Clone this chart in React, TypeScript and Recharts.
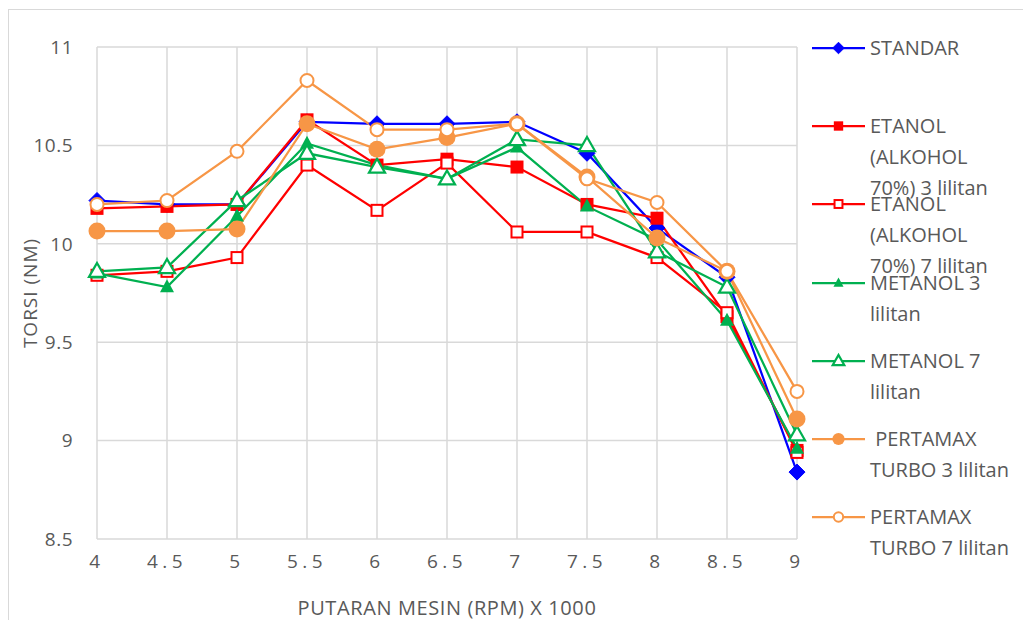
import React from 'react';
import { LineChart, Line, XAxis, YAxis, CartesianGrid, Legend } from 'recharts';

// Engine speed (x 1000 RPM)
const rpm = [4, 4.5, 5, 5.5, 6, 6.5, 7, 7.5, 8, 8.5, 9];

// Torque (Nm) per fuel / coil configuration
const standar = [10.22, 10.2, 10.2, 10.62, 10.61, 10.61, 10.62, 10.46, 10.08, 9.83, 8.84];
const etanol3 = [10.18, 10.19, 10.2, 10.63, 10.4, 10.43, 10.39, 10.2, 10.13, 9.63, 8.95];
const etanol7 = [9.84, 9.86, 9.93, 10.4, 10.17, 10.41, 10.06, 10.06, 9.93, 9.65, 8.94];
const metanol3 = [9.85, 9.78, 10.14, 10.51, 10.4, 10.33, 10.49, 10.19, 10.02, 9.61, 8.96];
const metanol7 = [9.86, 9.88, 10.22, 10.46, 10.39, 10.33, 10.53, 10.5, 9.96, 9.78, 9.03];
const pertamax3 = [10.065, 10.065, 10.075, 10.61, 10.48, 10.54, 10.61, 10.34, 10.03, 9.86, 9.11];
const pertamax7 = [10.2, 10.22, 10.47, 10.83, 10.58, 10.58, 10.61, 10.33, 10.21, 9.86, 9.25];

const xTicks = [4, 4.5, 5, 5.5, 6, 6.5, 7, 7.5, 8, 8.5, 9];
const yTicks = [8.5, 9, 9.5, 10, 10.5, 11];

const seriesKeys = ['standar', 'etanol3', 'etanol7', 'metanol3', 'metanol7', 'pertamax3', 'pertamax7'];
const seriesNames = [
  'STANDAR',
  'ETANOL (ALKOHOL 70%) 3 lilitan',
  'ETANOL (ALKOHOL 70%) 7 lilitan',
  'METANOL 3 lilitan',
  'METANOL 7 lilitan',
  ' PERTAMAX TURBO 3 lilitan',
  'PERTAMAX TURBO 7 lilitan',
];
const seriesColors = ['#0000FF', '#FF0000', '#FF0000', '#00B050', '#00B050', '#F79646', '#F79646'];
type Shape = 'diamond' | 'square' | 'openSquare' | 'triangle' | 'openTriangle' | 'circle' | 'openCircle';
const seriesShapes: Shape[] = ['diamond', 'square', 'openSquare', 'triangle', 'openTriangle', 'circle', 'openCircle'];
const seriesValues = [standar, etanol3, etanol7, metanol3, metanol7, pertamax3, pertamax7];

const data = rpm.map((x, i) => {
  const row: Record<string, number> = { rpm: x };
  seriesKeys.forEach((k, s) => {
    row[k] = seriesValues[s][i];
  });
  return row;
});

const FONT = '"Open Sans", "DejaVu Sans", sans-serif';
const TEXT = '#595959';

function markerPath(shape: Shape, cx: number, cy: number, color: string, k: number) {
  switch (shape) {
    case 'diamond': {
      const r = 8 * k;
      return <path d={`M${cx},${cy - r}L${cx + r},${cy}L${cx},${cy + r}L${cx - r},${cy}Z`} fill={color} stroke={color} strokeWidth={1} />;
    }
    case 'square': {
      const s = 13 * k;
      return <rect x={cx - s / 2} y={cy - s / 2} width={s} height={s} fill={color} />;
    }
    case 'openSquare': {
      const s = 11 * k;
      return <rect x={cx - s / 2} y={cy - s / 2} width={s} height={s} fill="#fff" stroke={color} strokeWidth={2} />;
    }
    case 'triangle': {
      const w = 14 * k;
      const h = 13 * k;
      return <path d={`M${cx},${cy - h * 0.6}L${cx + w / 2},${cy + h * 0.4}L${cx - w / 2},${cy + h * 0.4}Z`} fill={color} />;
    }
    case 'openTriangle': {
      const w = 16 * k;
      const h = 14 * k;
      return <path d={`M${cx},${cy - h * 0.6}L${cx + w / 2},${cy + h * 0.4}L${cx - w / 2},${cy + h * 0.4}Z`} fill="#fff" stroke={color} strokeWidth={2.25} strokeLinejoin="miter" />;
    }
    case 'circle':
      return <circle cx={cx} cy={cy} r={8.5 * k} fill={color} />;
    case 'openCircle':
      return <circle cx={cx} cy={cy} r={6.5 * k} fill="#fff" stroke={color} strokeWidth={2} />;
  }
}

function makeDot(shape: Shape, color: string) {
  return (props: any) => {
    const { cx, cy, index } = props;
    if (cx == null || cy == null) return <g key={index} />;
    return <g key={`${shape}-${index}`}>{markerPath(shape, cx, cy, color, 1)}</g>;
  };
}

function LegendContent() {
  return (
    <div style={{ position: 'relative', width: 210, height: 600, fontFamily: FONT }}>
      {seriesNames.map((name, i) => {
        const top = 22 + i * 78.2;
        return (
          <div key={name} style={{ position: 'absolute', left: 0, top, width: 210 }}>
            <svg width={60} height={32} style={{ position: 'absolute', left: 15, top: 0 }}>
              <line x1={0} y1={16} x2={53} y2={16} stroke={seriesColors[i]} strokeWidth={2.25} />
              {markerPath(seriesShapes[i], 26.5, 16, seriesColors[i], 0.72)}
            </svg>
            <div
              style={{
                position: 'absolute',
                left: 73,
                top: 0,
                width: 146,
                fontSize: 20,
                lineHeight: '31px',
                color: TEXT,
                whiteSpace: 'pre-wrap',
                textAlign: 'left',
              }}
            >
              {name}
            </div>
          </div>
        );
      })}
    </div>
  );
}

const renderYLabel = (props: any) => {
  const vb = props.viewBox || {};
  const x = vb.x - 7;
  const y = vb.y + vb.height / 2;
  return (
    <text x={x} y={y} transform={`rotate(-90, ${x}, ${y})`} textAnchor="middle" dominantBaseline="central" fill={TEXT} fontSize={19} letterSpacing={1} fontFamily={FONT}>
      TORSI (NM)
    </text>
  );
};

const renderXLabel = (props: any) => {
  const vb = props.viewBox || {};
  const x = vb.x + vb.width / 2;
  const y = vb.y + 68;
  return (
    <text x={x} y={y} textAnchor="middle" dominantBaseline="central" fill={TEXT} fontSize={20} letterSpacing={0.6} fontFamily={FONT}>
      PUTARAN MESIN (RPM) X 1000
    </text>
  );
};

export default function App() {
  return (
    <div
      style={{
        position: 'fixed',
        left: 8,
        top: 9,
        width: 1030,
        height: 640,
        border: '1px solid #d9d9d9',
        background: '#fff',
      }}
    >
      <LineChart width={1014} height={610} data={data} margin={{ top: 37, right: 16, left: 28, bottom: 31 }}>
        <CartesianGrid stroke="#d9d9d9" strokeWidth={1.5} horizontal vertical />
        <XAxis
          dataKey="rpm"
          type="number"
          domain={[4, 9]}
          ticks={xTicks}
          axisLine={false}
          tickLine={false}
          tickMargin={10}
          height={50}
          interval={0}
          tick={{ fill: TEXT, fontSize: 19, fontFamily: FONT, letterSpacing: 4.5 }}
          label={renderXLabel}
        />
        <YAxis
          type="number"
          domain={[8.5, 11]}
          ticks={yTicks}
          axisLine={false}
          tickLine={false}
          tickMargin={18}
          width={60}
          interval={0}
          tick={{ fill: TEXT, fontSize: 19, fontFamily: FONT, letterSpacing: 0.5 }}
          label={renderYLabel}
        />
        {seriesKeys.map((k, i) => (
          <Line
            key={k}
            dataKey={k}
            name={seriesNames[i]}
            type="linear"
            stroke={seriesColors[i]}
            strokeWidth={2.25}
            dot={makeDot(seriesShapes[i], seriesColors[i])}
            activeDot={false}
            isAnimationActive={false}
          />
        ))}
        <Legend
          layout="vertical"
          align="right"
          verticalAlign="top"
          content={() => <LegendContent />}
          wrapperStyle={{ top: 0, right: 16, width: 210, height: 600 }}
        />
      </LineChart>
    </div>
  );
}
